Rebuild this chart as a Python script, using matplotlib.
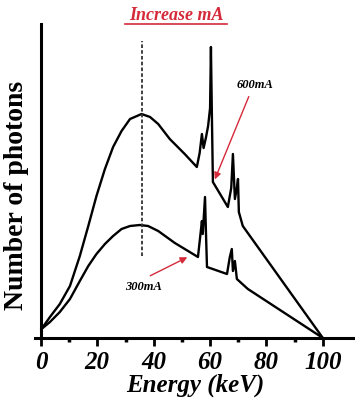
import matplotlib
matplotlib.use("Agg")
from matplotlib import pyplot as plt
from matplotlib.lines import Line2D

# Data (energy in keV, photon counts in arbitrary units)
energy_600 = [0.2, 3.2, 6.7, 10.3, 13.8, 16.8, 19.7, 22.7, 25.6, 28.6, 31.6,
              35.7, 38.7, 41.6, 45.7, 51, 55.3,
              56.3, 57.1, 57.7, 58.5, 59.3, 60.0, 60.3, 60.6, 61.0,
              66.3, 67.5, 68.1, 68.8, 69.5, 69.9, 70.2, 71.6, 100]
counts_600 = [9, 21, 34, 52, 82, 112, 142, 169, 191, 207, 219,
              224, 221, 214, 199, 184, 171,
              185, 204, 190, 200, 212, 230, 291, 230, 156,
              131, 150, 184, 139, 150, 159, 126, 112, 0]

energy_300 = [0.2, 3.2, 6.7, 10.3, 13.8, 16.8, 19.7, 22.7, 25.6, 28.6, 31.6,
              35.1, 38, 41.6, 47.5, 55.7,
              56.4, 57.1, 57.4, 58.2, 58.5, 58.9,
              66, 67, 67.7, 68.1, 68.8, 69.5, 73.4, 100]
counts_300 = [9, 16, 26, 39, 57, 72, 84, 94, 102, 109, 112,
              113, 112, 107, 95, 81,
              99, 117, 104, 141, 109, 71,
              64, 81, 89, 67, 77, 59, 49, 0]

peak_energy = 36
x_ticks = [0, 20, 40, 60, 80, 100]
x_minor = [10, 30, 50, 70, 90]

TITLE = "Increase mA"
RED = "#d42a3a"
SERIF = ["Liberation Serif", "DejaVu Serif"]

fig = plt.figure(figsize=(3.55, 4.10), dpi=100)
ax = fig.add_axes([35 / 355, 1 - 339 / 410, 320 / 355, 314 / 410])

ax.plot(energy_600, counts_600, color="black", lw=1.7, solid_joinstyle="round")
ax.plot(energy_300, counts_300, color="black", lw=1.7, solid_joinstyle="round")

# dashed marker at the peak of the continuum
ax.plot([peak_energy, peak_energy], [82, 297], color="#333333", lw=1.3,
        linestyle=(0, (2, 1.2)))

ax.set_xlim(-2.1, 111.4)
ax.set_ylim(0, 314)

for side in ["top", "right"]:
    ax.spines[side].set_visible(False)
ax.spines["left"].set_position(("data", 0))
ax.spines["left"].set_linewidth(2.2)
ax.spines["bottom"].set_linewidth(2.2)

ax.set_yticks([])
ax.set_xticks(x_ticks)
ax.set_xticks(x_minor, minor=True)
ax.tick_params(axis="x", which="major", direction="out", length=6, width=2, pad=3)
ax.tick_params(axis="x", which="minor", direction="out", length=3, width=2.5)
ax.set_xticklabels([str(t) for t in x_ticks], family=SERIF, fontsize=18,
                   fontweight="bold", fontstyle="italic")

ax.set_xlabel("Energy (keV)", family=SERIF, fontsize=18, fontstyle="italic",
              fontweight="bold", labelpad=-1)
fig.text(17 / 355, 1 - 195 / 410, "Number of photons", rotation=90,
         ha="center", va="center", family=SERIF, fontsize=20, fontweight="bold")

# title, underlined
fig.text(176 / 355, 1 - 15 / 410, TITLE, ha="center", va="center", color=RED,
         family=SERIF, fontsize=13, fontweight="bold", fontstyle="italic")
fig.add_artist(Line2D([125 / 355, 227 / 355], [1 - 25 / 410, 1 - 25 / 410],
                      color=RED, lw=1.2))

# current labels with red arrows
ax.text(75.9, 254, "600mA", ha="center", va="center", family=SERIF,
        fontsize=9, fontweight="bold", fontstyle="italic")
ax.annotate("", xy=(61.3, 156), xytext=(74.1, 244),
            arrowprops=dict(arrowstyle="-|>", color=RED, lw=1.0,
                            mutation_scale=10))
ax.text(36.5, 52, "300mA", ha="center", va="center", family=SERIF,
        fontsize=9, fontweight="bold", fontstyle="italic")
ax.annotate("", xy=(52.8, 82), xytext=(37.9, 61),
            arrowprops=dict(arrowstyle="-|>", color=RED, lw=1.0,
                            mutation_scale=10))

fig.savefig("out.png", dpi=100)
